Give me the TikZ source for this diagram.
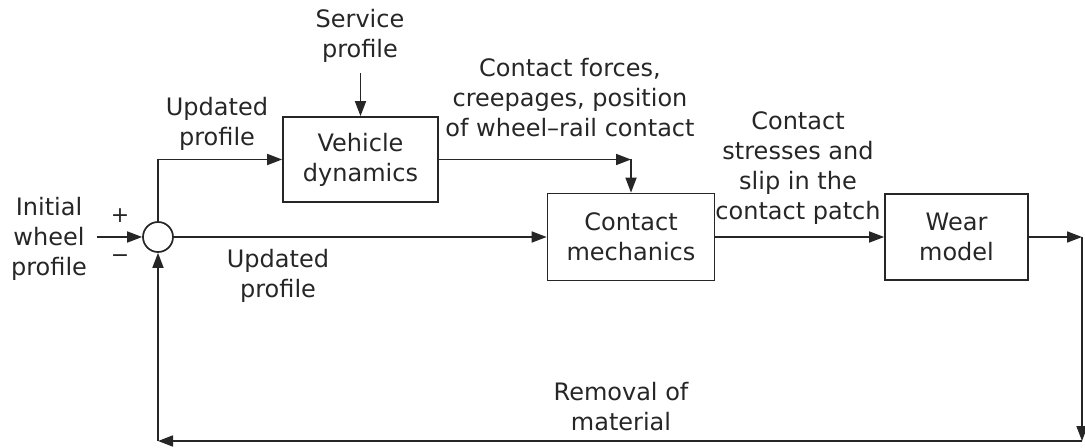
\documentclass[tikz,border=0pt]{standalone}
\usepackage{fontspec}
\setmainfont{DejaVu Sans}
\usetikzlibrary{arrows.meta}
\tikzset{
  lbl/.style={align=center, inner sep=0pt, text=black!85, font=\fontsize{12}{15}\selectfont},
  blk/.style={draw=black!85, line width=0.85pt, align=center, inner sep=0pt, text=black!85, font=\fontsize{12}{15}\selectfont},
  sumnode/.style={draw=black!85, line width=0.85pt, circle, minimum size=15pt, inner sep=0pt},
  conn/.style={draw=black!85, line width=0.85pt, -{Triangle[length=7.5pt,width=5.5pt]}},
  sgn/.style={inner sep=0pt, text=black!85, font=\fontsize{11}{13}\selectfont}
}
\begin{document}
\begin{tikzpicture}[x=0.5pt,y=-0.5pt]
\useasboundingbox (0,0) rectangle (1085,448);
% blocks
\node[sumnode] (sum) at (158,237) {};
\node[blk, minimum width=77.5pt, minimum height=42.5pt] (veh) at (360.5,159.5) {Vehicle\\dynamics};
\node[blk, minimum width=83.5pt, minimum height=43.5pt] (cm) at (631,237) {Contact\\mechanics};
\node[blk, minimum width=71.5pt, minimum height=43pt] (wear) at (956.5,237) {Wear\\model};
% labels
\node[lbl] (init) at (49,239) {Initial\\wheel\\profile};
\node[sgn] (plus) at (120,216) {+};
\node[sgn] (minus) at (120,259) {−};
\node[lbl] (svc) at (360,36) {Service\\profile};
\node[lbl] (upd1) at (217,124) {Updated\\profile};
\node[lbl] (upd2) at (278,276) {Updated\\profile};
\node[lbl] (cfl) at (570,97.5) {Contact forces,\\creepages, position\\of wheel\textendash rail contact};
\node[lbl] (csl) at (798,168) {Contact\\stresses and\\slip in the\\contact patch};
\node[lbl] (rml) at (621,407) {Removal of\\material};
% coordinates
\coordinate (inL) at (97,237);
\coordinate (svcA) at (360.5,73);
\coordinate (cf) at (631,159.5);
\coordinate (R1) at (1082,237);
\coordinate (R2) at (1082,441);
\coordinate (L2) at (158,441);
% connectors
\draw[conn] (inL) -- (sum.west);
\draw[conn] (sum.north) |- (veh.west);
\draw[conn] (svcA) -- (veh.north);
\draw[conn] (veh.east) -- (cf);
\draw[conn] (cf) -- (cm.north);
\draw[conn] (sum.east) -- (cm.west);
\draw[conn] (cm.east) -- (wear.west);
\draw[conn] (wear.east) -- (R1);
\draw[conn] (R1) -- (R2);
\draw[conn] (R2) -- (L2);
\draw[conn] (L2) -- (sum.south);
\end{tikzpicture}
\end{document}
